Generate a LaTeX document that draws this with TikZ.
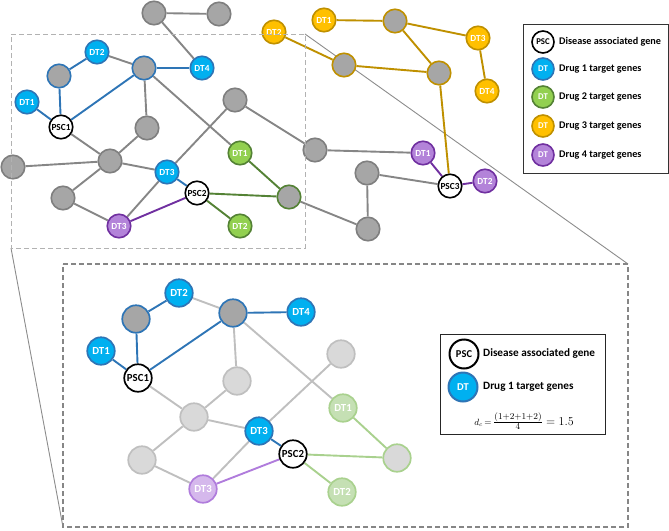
\documentclass[tikz,border=0pt]{standalone}
\usepackage{fontspec}
\setmainfont{Carlito}
\usetikzlibrary{backgrounds}
\definecolor{bfill}{HTML}{00B0F0}
\definecolor{bdraw}{HTML}{2E75B6}
\definecolor{grfill}{HTML}{92D050}
\definecolor{grdraw}{HTML}{548235}
\definecolor{ofill}{HTML}{FFC000}
\definecolor{odraw}{HTML}{BF9000}
\definecolor{pfill}{HTML}{B383D9}
\definecolor{pdraw}{HTML}{7030A0}
\definecolor{gyfill}{HTML}{A6A6A6}
\definecolor{gydraw}{HTML}{7F7F7F}
\definecolor{gyedge}{HTML}{868686}
\definecolor{lfill}{HTML}{D9D9D9}
\definecolor{ldraw}{HTML}{BFBFBF}
\definecolor{lgfill}{HTML}{C5E0B4}
\definecolor{lgdraw}{HTML}{A9D18E}
\definecolor{lpfill}{HTML}{D5B8EC}
\definecolor{lpdraw}{HTML}{B07CDC}
\tikzset{
  nd/.style={circle,minimum size=23.5pt,inner sep=0pt,line width=1.6pt,font=\bfseries\fontsize{9.3}{10}\selectfont},
  bnd/.style={circle,minimum size=27.5pt,inner sep=0pt,line width=1.7pt,font=\bfseries\fontsize{10.8}{12}\selectfont},
  gy/.style={fill=gyfill,draw=gydraw},
  gyb/.style={fill=gyfill,draw=bdraw},
  gyg/.style={fill=gyfill,draw=grdraw},
  gyo/.style={fill=gyfill,draw=odraw},
  bl/.style={fill=bfill,draw=bdraw,text=white},
  gr/.style={fill=grfill,draw=grdraw,text=white},
  og/.style={fill=ofill,draw=odraw,text=white},
  pu/.style={fill=pfill,draw=pdraw,text=white},
  ps/.style={fill=white,draw=black,text=black},
  lgy/.style={fill=lfill,draw=ldraw},
  lgg/.style={fill=lfill,draw=lgdraw},
  lgr/.style={fill=lgfill,draw=lgdraw,text=white},
  lpu/.style={fill=lpfill,draw=lpdraw,text=white},
  eg/.style={draw=gyedge,line width=1.9pt},
  eb/.style={draw=bdraw,line width=1.9pt},
  egr/.style={draw=grdraw,line width=1.9pt},
  eo/.style={draw=odraw,line width=1.9pt},
  ep/.style={draw=pdraw,line width=1.9pt},
  el/.style={draw=ldraw,line width=1.9pt},
  elg/.style={draw=lgdraw,line width=1.9pt},
  elp/.style={draw=lpdraw,line width=1.9pt},
  legtxt/.style={anchor=west,font=\bfseries\fontsize{10.2}{11}\selectfont,inner sep=0pt},
  blegtxt/.style={anchor=west,font=\bfseries\fontsize{11.2}{12}\selectfont,inner sep=0pt},
  legcirc/.style={minimum size=22pt,font=\bfseries\fontsize{8.8}{9}\selectfont},
}
\begin{document}
\begin{tikzpicture}[x=1pt,y=-1pt]
\useasboundingbox (0,0) rectangle (669,530);
% ---------- top network nodes
\node[nd,gy]  (tG1)  at (154,13) {};
\node[nd,gy]  (tG2)  at (219,14) {};
\node[nd,bl]  (tDT2b) at (97,52) {DT2};
\node[nd,gyb] (tG3)  at (144,68) {};
\node[nd,bl]  (tDT4b) at (202,68) {DT4};
\node[nd,gyb] (tG4)  at (59,76) {};
\node[nd,bl]  (tDT1b) at (27,102) {DT1};
\node[nd,ps]  (tPSC1) at (61,127) {PSC1};
\node[nd,gy]  (tG5)  at (147,128) {};
\node[nd,gy]  (tG6)  at (235,100) {};
\node[nd,gy]  (tG7)  at (13,167) {};
\node[nd,gy]  (tG8)  at (110,161) {};
\node[nd,bl]  (tDT3b) at (167,172) {DT3};
\node[nd,gr]  (tDT1g) at (240,153) {DT1};
\node[nd,ps]  (tPSC2) at (197,193) {PSC2};
\node[nd,gy]  (tG9)  at (63,198) {};
\node[nd,pu]  (tDT3p) at (119,226) {DT3};
\node[nd,gr]  (tDT2g) at (240,226) {DT2};
\node[nd,gyg] (tG10) at (289,197) {};
\node[nd,gy]  (tG11) at (315,150) {};
\node[nd,og]  (tDT2o) at (274,32) {DT2};
\node[nd,og]  (tDT1o) at (324,20) {DT1};
\node[nd,gyo] (tO1)  at (395,21) {};
\node[nd,og]  (tDT3o) at (478,38) {DT3};
\node[nd,og]  (tDT4o) at (487,91) {DT4};
\node[nd,gyo] (tO2)  at (344,65) {};
\node[nd,gyo] (tO3)  at (439,73) {};
\node[nd,pu]  (tDT1p) at (423,153) {DT1};
\node[nd,ps]  (tPSC3) at (450,186) {PSC3};
\node[nd,pu]  (tDT2p) at (485,181) {DT2};
\node[nd,gy]  (tG12) at (367,173) {};
\node[nd,gy]  (tG13) at (368,229) {};
% ---------- bottom network nodes
\node[bnd,bl]  (bDT2) at (179,293) {DT2};
\node[bnd,gyb] (bG4)  at (136,319) {};
\node[bnd,gyb] (bG3)  at (233,313) {};
\node[bnd,bl]  (bDT4) at (301,312) {DT4};
\node[bnd,bl]  (bDT1) at (101,351) {DT1};
\node[bnd,ps]  (bPSC1) at (138,378) {PSC1};
\node[bnd,lgy] (bG5)  at (237,381) {};
\node[bnd,lgy] (bG6)  at (341,354) {};
\node[bnd,lgr] (bDT1g) at (343,408) {DT1};
\node[bnd,lgy] (bG8)  at (194,417) {};
\node[bnd,bl]  (bDT3) at (259,431) {DT3};
\node[bnd,ps]  (bPSC2) at (293,454) {PSC2};
\node[bnd,lgy] (bG9)  at (142,460) {};
\node[bnd,lpu] (bDT3p) at (203,489) {DT3};
\node[bnd,lgr] (bDT2g) at (342,492) {DT2};
\node[bnd,lgg] (bG10) at (397,458) {};
% ---------- frames
\coordinate (rTL) at (11,34);
\coordinate (rTR) at (305,34);
\coordinate (rBR) at (305,248);
\coordinate (rBL) at (11,248);
\coordinate (sTL) at (63,264);
\coordinate (sTR) at (628,264);
\coordinate (sBR) at (628,527);
\coordinate (sBL) at (63,527);
\begin{scope}[on background layer]
\draw[draw=gray!90,line width=0.9pt] (rTR) -- (sTR);
\draw[draw=gray!90,line width=0.9pt] (rBL) -- (sBL);
% top edges
\draw[eg] (tG1) -- (tG2);
\draw[eg] (tG1) -- (tDT4b);
\draw[eb] (tDT2b) -- (tG4);
\draw[eg] (tDT2b) -- (tG3);
\draw[eb] (tG3) -- (tDT4b);
\draw[eb] (tG4) -- (tPSC1);
\draw[eb] (tDT1b) -- (tPSC1);
\draw[eb] (tPSC1) -- (tG3);
\draw[eg] (tG3) -- (tG5);
\draw[eg] (tG3) -- (tDT1g);
\draw[eg] (tPSC1) -- (tG8);
\draw[eg] (tG5) -- (tG8);
\draw[eg] (tG7) -- (tG8);
\draw[eg] (tG8) -- (tDT3b);
\draw[eg] (tG8) -- (tG9);
\draw[eg] (tG9) -- (tDT3p);
\draw[eg] (tDT3p) -- (tDT3b);
\draw[eg] (tDT3b) -- (tG6);
\draw[eb] (tDT3b) -- (tPSC2);
\draw[ep] (tPSC2) -- (tDT3p);
\draw[egr] (tPSC2) -- (tG10);
\draw[egr] (tPSC2) -- (tDT2g);
\draw[egr] (tDT1g) -- (tG10);
\draw[eg] (tG6) -- (tG11);
\draw[eg] (tG10) -- (tG13);
\draw[eg] (tG11) -- (tDT1p);
\draw[ep] (tDT1p) -- (tPSC3);
\draw[ep] (tPSC3) -- (tDT2p);
\draw[eg] (tG12) -- (tPSC3);
\draw[eg] (tG12) -- (tG13);
\draw[eo] (tO3) -- (tPSC3);
\draw[eo] (tDT2o) -- (tO2);
\draw[eo] (tO2) -- (tO3);
\draw[eo] (tDT1o) -- (tO1);
\draw[eo] (tO1) -- (tDT3o);
\draw[eo] (tO1) -- (tO3);
\draw[eo] (tDT3o) -- (tDT4o);
% bottom edges
\draw[eb] (bDT2) -- (bG4);
\draw[el] (bDT2) -- (bG3);
\draw[eb] (bG3) -- (bDT4);
\draw[eb] (bG4) -- (bPSC1);
\draw[eb] (bDT1) -- (bPSC1);
\draw[eb] (bPSC1) -- (bG3);
\draw[el] (bG3) -- (bG5);
\draw[el] (bG3) -- (bDT1g);
\draw[el] (bPSC1) -- (bG8);
\draw[el] (bG5) -- (bG8);
\draw[el] (bG8) -- (bDT3);
\draw[el] (bG8) -- (bG9);
\draw[el] (bG9) -- (bDT3p);
\draw[el] (bDT3p) -- (bDT3);
\draw[el] (bDT3) -- (bG6);
\draw[eb] (bDT3) -- (bPSC2);
\draw[elp] (bPSC2) -- (bDT3p);
\draw[elg] (bPSC2) -- (bG10);
\draw[elg] (bPSC2) -- (bDT2g);
\draw[elg] (bDT1g) -- (bG10);
\end{scope}
\draw[draw=gray!60,line width=1pt,dash pattern=on 5pt off 3pt] (rTL) -- (rTR) -- (rBR) -- (rBL) -- cycle;
\draw[draw=gray!95,line width=1.4pt,dash pattern=on 5pt off 3pt] (sTL) -- (sTR) -- (sBR) -- (sBL) -- cycle;
% ---------- top legend
\node[draw=black!80,line width=0.9pt,minimum width=145pt,minimum height=149pt,inner sep=0pt] (leg1) at (595.5,98.5) {};
\node[nd,ps,legcirc] (l1a) at (543,42) {PSC};
\node[nd,bl,legcirc] (l1b) at (543,69) {DT};
\node[nd,gr,legcirc] (l1c) at (543,97) {DT};
\node[nd,og,legcirc] (l1d) at (543,126) {DT};
\node[nd,pu,legcirc] (l1e) at (543,155) {DT};
\node[legtxt] (t1a) at (559,42) {Disease associated gene};
\node[legtxt] (t1b) at (559,69) {Drug 1 target genes};
\node[legtxt] (t1c) at (559,97) {Drug 2 target genes};
\node[legtxt] (t1d) at (559,126) {Drug 3 target genes};
\node[legtxt] (t1e) at (559,155) {Drug 4 target genes};
% ---------- bottom legend
\node[draw=black!85,line width=1pt,minimum width=165pt,minimum height=100pt,inner sep=0pt,fill=white] (leg2) at (522.5,384) {};
\node[bnd,ps,minimum size=29pt,line width=2pt,font=\bfseries\fontsize{10.5}{11}\selectfont] (l2a) at (464,354) {PSC};
\node[bnd,bl,minimum size=29pt,line width=2pt,font=\bfseries\fontsize{10.5}{11}\selectfont] (l2b) at (463,387) {DT};
\node[blegtxt] (t2a) at (483,354) {Disease associated gene};
\node[blegtxt] (t2b) at (483,387) {Drug 1 target genes};
\node[inner sep=0pt,font=\fontsize{12.5}{14}\selectfont] (f2) at (524,421) {${\scriptstyle d_c\,=\,}\frac{(1+2+1+2)}{4}=1.5$};
\end{tikzpicture}
\end{document}
